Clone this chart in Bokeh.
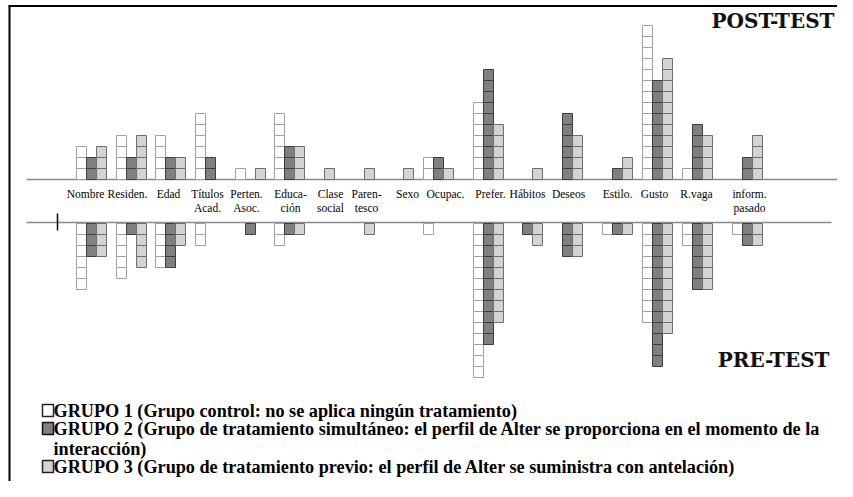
from bokeh.plotting import figure
from bokeh.models import Range1d
from bokeh.core.properties import value
from bokeh.embed import file_html
from bokeh.resources import INLINE

# ---------------- data ----------------
categories = ["Nombre", "Residen.", "Edad", "Títulos\nAcad.", "Perten.\nAsoc.", "Educa-\nción",
              "Clase\nsocial", "Paren-\ntesco", "Sexo", "Ocupac.", "Prefer.", "Hábitos",
              "Deseos", "Estilo.", "Gusto", "R.vaga", "inform.\npasado"]

post_g1 = [3, 4, 4, 6, 1, 6, 0, 0, 0, 2, 7, 0, 0, 0, 14, 1, 0]
post_g2 = [2, 2, 2, 2, 0, 3, 0, 0, 0, 2, 10, 0, 6, 1, 9, 5, 2]
post_g3 = [3, 4, 2, 0, 1, 3, 1, 1, 1, 1, 5, 1, 4, 2, 11, 4, 4]

pre_g1 = [6, 5, 4, 2, 0, 2, 0, 0, 0, 1, 14, 0, 0, 1, 9, 2, 1]
pre_g2 = [3, 1, 4, 0, 1, 1, 0, 0, 0, 0, 11, 1, 3, 1, 13, 6, 2]
pre_g3 = [3, 4, 2, 0, 0, 1, 0, 1, 0, 0, 9, 2, 3, 1, 10, 6, 2]

legend_labels = [
    "GRUPO 1 (Grupo control: no se aplica ningún tratamiento)",
    "GRUPO 2 (Grupo de tratamiento simultáneo: el perfil de Alter se proporciona en el momento de la\ninteracción)",
    "GRUPO 3 (Grupo de tratamiento previo: el perfil de Alter se suministra con antelación)",
]

# ---------------- layout ----------------
group_left = [76, 116, 155, 195, 235, 274, 304, 344, 383, 423, 473, 512, 552, 602, 642, 682, 732]
label_x = [85, 127, 168, 207, 246, 290, 330, 366, 407, 445, 490, 527, 568, 617, 654, 696, 749]
CELL_W, CELL_H = 10, 11
UP_BASE, DOWN_BASE = 179, 223

fills = ["#ffffff", "#808080", "#d4d4d4"]
lines = ["#a0a0a0", "#3c3c3c", "#6e6e6e"]

p = figure(width=837, height=481, output_backend="svg", toolbar_location=None,
           x_range=Range1d(0, 837), y_range=Range1d(481, 0), min_border=0)
p.axis.visible = False
p.grid.visible = False
p.outline_line_color = None
p.background_fill_color = "white"

# frame lines
p.line(x=[8, 837], y=[5.5, 5.5], line_color="black", line_width=2)
p.line(x=[9, 9], y=[5, 481], line_color="black", line_width=2)

# baselines
p.line(x=[26, 837], y=[UP_BASE, UP_BASE], line_color="#8a8a8a", line_width=1.5)
p.line(x=[26, 831], y=[DOWN_BASE - 1, DOWN_BASE - 1], line_color="#8a8a8a", line_width=1.5)
p.line(x=[57, 57], y=[213, 230], line_color="black", line_width=1.5)

# cells
for gi, (up, dn) in enumerate([(post_g1, pre_g1), (post_g2, pre_g2), (post_g3, pre_g3)]):
    xs, ys = [], []
    for ci in range(len(categories)):
        cx = group_left[ci] + gi * CELL_W + CELL_W / 2
        for k in range(up[ci]):
            xs.append(cx)
            ys.append(UP_BASE - (k + 0.5) * CELL_H)
        for k in range(dn[ci]):
            xs.append(cx)
            ys.append(DOWN_BASE + (k + 0.5) * CELL_H)
    p.rect(x=xs, y=ys, width=CELL_W, height=CELL_H, fill_color=fills[gi],
           line_color=lines[gi], line_width=1)

# category labels
p.text(x=label_x, y=[187] * len(categories), text=categories,
       text_font=value("Liberation Serif"), text_font_size="11.5px",
       text_align="center", text_baseline="top", text_color="black",
       text_line_height=1.2)

# section titles
p.text(x=[834], y=[20], text=["POST-TEST"], text_font=value("DejaVu Serif"),
       text_font_style="bold", text_font_size="20px", text_align="right",
       text_baseline="middle", text_color="#111111")
p.text(x=[829], y=[359], text=["PRE-TEST"], text_font=value("DejaVu Serif"),
       text_font_style="bold", text_font_size="20px", text_align="right",
       text_baseline="middle", text_color="#111111")

# legend
leg_y = [410, 428, 466]
box_line = ["#222222", "#111111", "#222222"]
p.rect(x=[47.5] * 3, y=leg_y, width=11, height=12, fill_color=fills,
       line_color=box_line, line_width=1.5)
p.text(x=[53] * 3, y=[y - 10 for y in leg_y], text=legend_labels,
       text_font=value("Liberation Serif"), text_font_style="bold",
       text_font_size="18.2px", text_align="left", text_baseline="top",
       text_color="black", text_line_height=1.04)

open("out.html", "w").write(file_html(p, INLINE))
